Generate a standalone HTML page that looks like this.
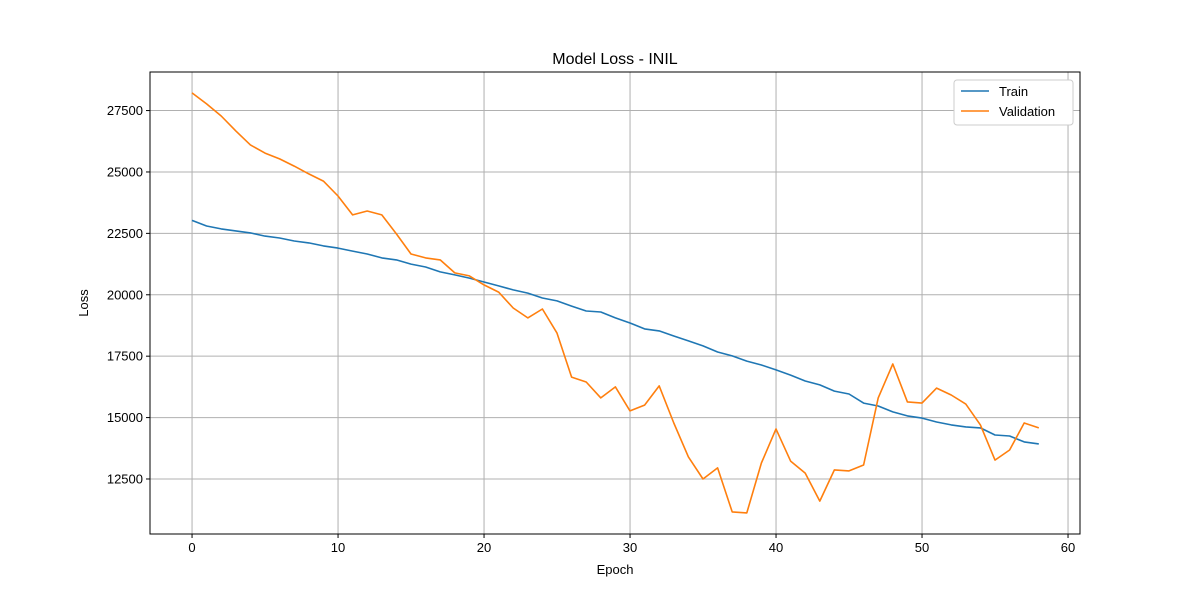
<!DOCTYPE html>
<html><head><meta charset="utf-8"><style>
body{margin:0;background:#fff;}
text{font-family:"Liberation Sans","DejaVu Sans",sans-serif;}
</style></head><body>
<svg id="chart" width="1200" height="600" xmlns="http://www.w3.org/2000/svg"></svg>
<script>
const epochs = Array.from({length:59},(_,i)=>i);
const trainLoss = [23030,22800,22680,22600,22520,22390,22310,22190,22110,21990,21900,21780,21660,21500,21420,21250,21130,20930,20810,20680,20520,20360,20200,20070,19870,19750,19540,19340,19300,19060,18850,18610,18530,18320,18120,17920,17670,17510,17300,17140,16940,16730,16490,16330,16080,15960,15590,15470,15230,15070,14980,14820,14700,14620,14580,14290,14250,14010,13930];
const valLoss = [28220,27770,27280,26670,26100,25770,25530,25240,24920,24630,24020,23250,23410,23250,22480,21660,21500,21420,20890,20770,20400,20110,19460,19060,19420,18440,16650,16450,15800,16250,15270,15510,16290,14780,13400,12500,12950,11160,11120,13150,14540,13230,12740,11600,12870,12830,13070,15800,17180,15640,15590,16200,15920,15550,14700,13270,13680,14780,14580];
const xTicks = [0,10,20,30,40,50,60];
const yTicks = [12500,15000,17500,20000,22500,25000,27500];

const L=150,R=1080,T=72,B=534;
const xMin=-2.88,xMax=60.82,yMin=10260,yMax=29070;
const sx=v=>L+(v-xMin)/(xMax-xMin)*(R-L);
const sy=v=>B-(v-yMin)/(yMax-yMin)*(B-T);
const svg=document.getElementById('chart');
const NS='http://www.w3.org/2000/svg';
function mk(tag,attrs,txt){const e=document.createElementNS(NS,tag);for(const k in attrs)e.setAttribute(k,attrs[k]);if(txt!==undefined)e.textContent=txt;svg.appendChild(e);return e;}

xTicks.forEach(t=>{const x=sx(t);
 let g=mk('line',{x1:x,x2:x,y1:T,y2:B,stroke:'#b0b0b0','stroke-width':1});
 
 
 mk('line',{x1:x,x2:x,y1:B,y2:B+4,stroke:'#000'});
 let l=mk('text',{x:x,y:B+18,'text-anchor':'middle','font-size':13},t);
 
 
});
yTicks.forEach(t=>{const y=sy(t);
 let g=mk('line',{x1:L,x2:R,y1:y,y2:y,stroke:'#b0b0b0','stroke-width':1});
 
 
 mk('line',{x1:L-4,x2:L,y1:y,y2:y,stroke:'#000'});
 let l=mk('text',{x:L-7,y:y+4.5,'text-anchor':'end','font-size':13},t);
 
 
});
let frame=mk('rect',{x:L,y:T,width:R-L,height:B-T,fill:'none',stroke:'#000','stroke-width':1});



function line(data,color,name){
 const d=data.map((v,i)=>(i?'L':'M')+sx(epochs[i]).toFixed(1)+','+sy(v).toFixed(1)).join('');
 const p=mk('path',{d:d,fill:'none',stroke:color,'stroke-width':1.6,'stroke-linejoin':'round'});
 
 
}
line(trainLoss,'#1f77b4','train-line');
line(valLoss,'#ff7f0e','validation-line');

let title=mk('text',{x:615,y:64,'text-anchor':'middle','font-size':16},'Model Loss - INIL');


let xt=mk('text',{x:615,y:574,'text-anchor':'middle','font-size':13},'Epoch');


let yt=mk('text',{x:88,y:303,'text-anchor':'middle','font-size':13,transform:'rotate(-90 88 303)'},'Loss');



let lg=mk('rect',{x:954,y:80,width:119,height:45,rx:3,fill:'#fff',stroke:'#ccc'});


[['Train','#1f77b4',91],['Validation','#ff7f0e',111]].forEach(([n,c,y])=>{
 mk('line',{x1:961,x2:989,y1:y,y2:y,stroke:c,'stroke-width':1.6});
 let t=mk('text',{x:999,y:y+5,'font-size':13},n);
 
 
});
</script>
</body></html>
